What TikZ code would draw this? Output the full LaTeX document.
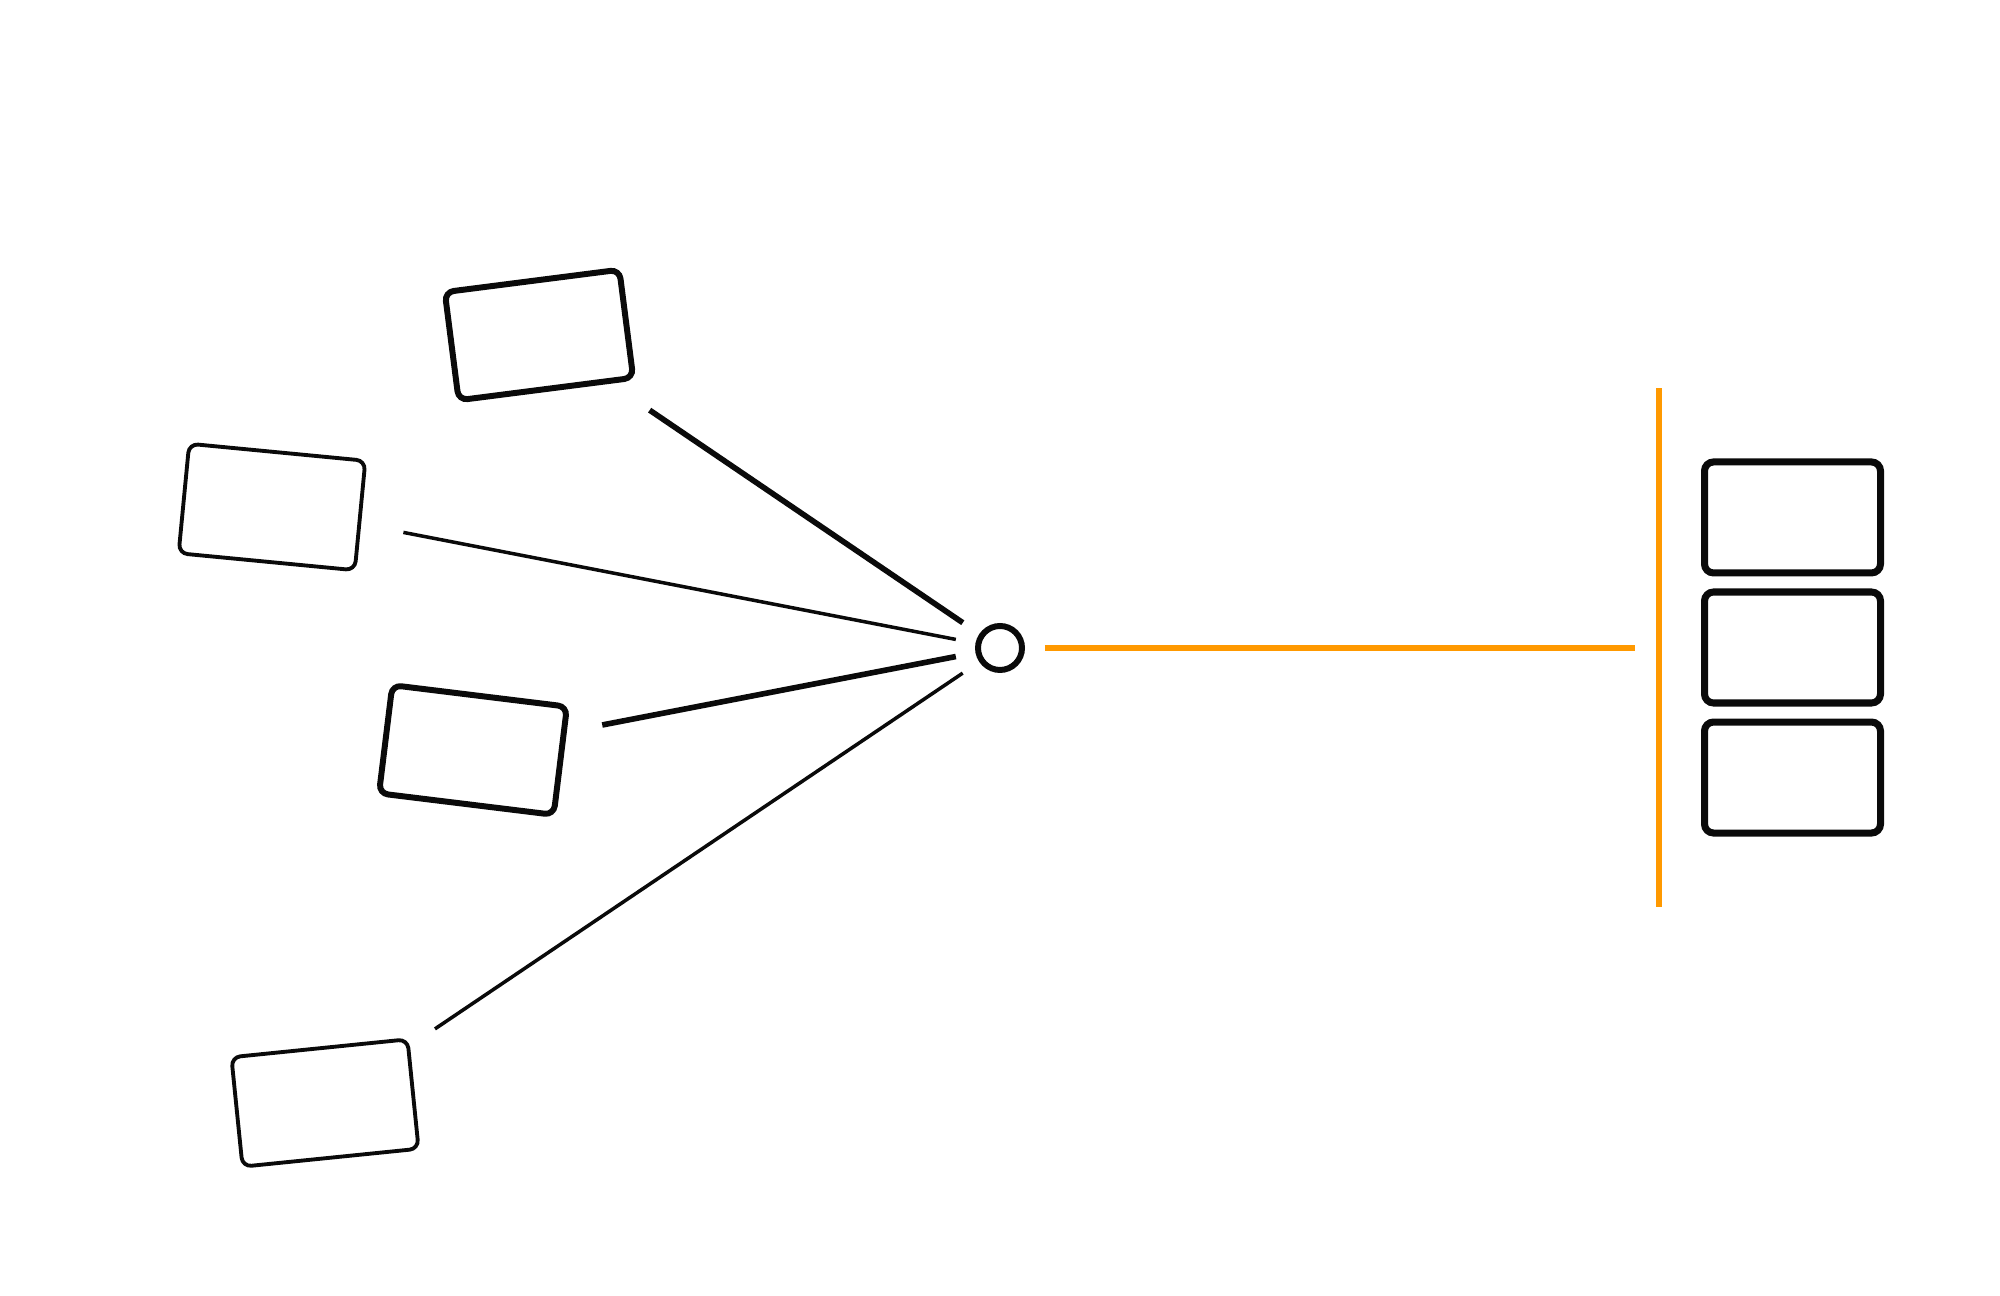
\documentclass[tikz,border=0pt]{standalone}
\usetikzlibrary{positioning}
\definecolor{amber}{RGB}{255,153,0}
\definecolor{ink}{RGB}{10,10,10}

\begin{document}
\begin{tikzpicture}[anchor=center,
    card/.style={draw=ink, rounded corners=0.09cm, inner sep=0pt, fill=white},
    thickcard/.style={card, line width=1.7pt, minimum width=1.76cm, minimum height=1.09cm},
    thincard/.style={card, line width=1.1pt, minimum width=1.77cm, minimum height=1.1cm},
    slot/.style={card, line width=2pt, minimum width=1.76cm, minimum height=1.11cm},
    hubnode/.style={circle, draw=ink, line width=1.7pt, minimum size=0.44cm, inner sep=0pt},
    link/.style={draw=ink, shorten >=0.2cm},
    amberline/.style={draw=amber, line width=1.85pt}]

		\useasboundingbox (0,0) rectangle (20,12.96);

		% tilted cards on the left
		\node[thickcard, rotate=7.3] (cardA) at (5.39,9.61) {};
		\node[thincard, rotate=-5.5] (cardB) at (2.72,7.89) {};
		\node[thickcard, rotate=-7] (cardC) at (4.73,5.46) {};
		\node[thincard, rotate=5.8] (cardD) at (3.25,1.93) {};

		\node[hubnode] (hub) at (10.00,6.48) {};

		\draw[link, line width=1.6pt, shorten <=0.47cm] (cardA) -- (hub);
		\draw[link, line width=1pt, shorten <=0.43cm] (cardB) -- (hub);
		\draw[link, line width=1.6pt, shorten <=0.36cm] (cardC) -- (hub);
		\draw[link, line width=1pt, shorten <=0.3cm] (cardD) -- (hub);

		% bar and stack on the right
		\node[fill=amber, inner sep=0pt, minimum width=0.065cm, minimum height=5.19cm] (bar) at (16.59,6.48) {};
		\draw[amberline, shorten <=0.2cm, shorten >=0.2cm] (hub) -- (bar);

		\node[slot] (slotmid) at (17.925,6.485) {};
		\node[slot, above=0.12cm of slotmid] (slottop) {};
		\node[slot, below=0.12cm of slotmid] (slotbot) {};

\end{tikzpicture}
\end{document}
